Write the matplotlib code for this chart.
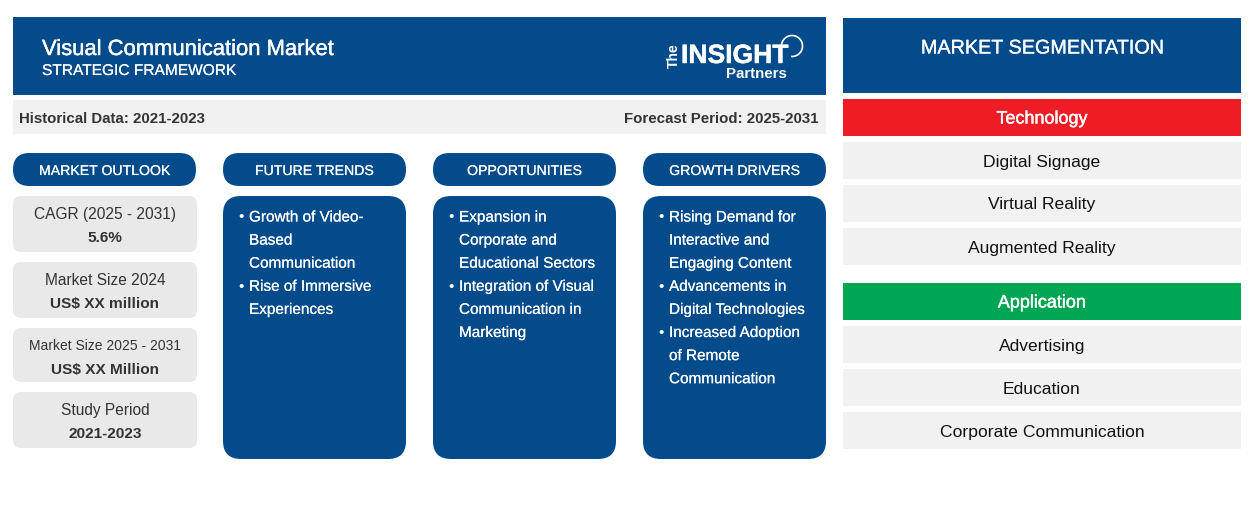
#!/usr/bin/env python3
"""Visual communication market infographic, laid out in pixel coordinates."""

import matplotlib
matplotlib.use("Agg")
import matplotlib.pyplot as plt
import matplotlib.patheffects as pe
from matplotlib.patches import Arc, FancyBboxPatch, Rectangle

plt.rcParams["font.family"] = ["Liberation Sans", "DejaVu Sans"]

BLUE = "#034b8a"
GREY = "#e9e9e9"
LIGHT = "#f1f1f1"
RED = "#ee1c25"
GREEN = "#00a651"
TEXT = "#333333"
PX = 0.72  # px to pt at dpi 100

title = "Visual Communication Market"
subtitle = "STRATEGIC FRAMEWORK"
historical = "Historical Data: 2021-2023"
forecast = "Forecast Period: 2025-2031"

outlook_labels = ["CAGR (2025 - 2031)", "Market Size 2024", "Market Size 2025 - 2031", "Study Period"]
outlook_values = ["5.6%", "US$ XX million", "US$ XX Million", "2021-2023"]

column_titles = ["MARKET OUTLOOK", "FUTURE TRENDS", "OPPORTUNITIES", "GROWTH DRIVERS"]
future_trends = [["Growth of Video-", "Based", "Communication"], ["Rise of Immersive", "Experiences"]]
opportunities = [["Expansion in", "Corporate and", "Educational Sectors"],
                 ["Integration of Visual", "Communication in", "Marketing"]]
growth_drivers = [["Rising Demand for", "Interactive and", "Engaging Content"],
                  ["Advancements in", "Digital Technologies"],
                  ["Increased Adoption", "of Remote", "Communication"]]

segment_title = "MARKET SEGMENTATION"
technology = ["Digital Signage", "Virtual Reality", "Augmented Reality"]
application = ["Advertising", "Education", "Corporate Communication"]


def rect(ax, x0, y0, x1, y1, color):
    ax.add_patch(Rectangle((x0, y0), x1 - x0, y1 - y0, fc=color, ec="none"))


def rounded(ax, x0, y0, x1, y1, r, color):
    ax.add_patch(FancyBboxPatch((x0 + r, y0 + r), x1 - x0 - 2 * r, y1 - y0 - 2 * r,
                                boxstyle=f"round,pad={r},rounding_size={r}", fc=color, ec="none"))


def label(ax, x, y, s, size, color="white", ha="center", weight="normal", heavy=0):
    t = ax.text(x, y + 1, s, fontsize=size * PX, color=color, ha=ha, va="center", fontweight=weight)
    if heavy:
        t.set_path_effects([pe.withStroke(linewidth=heavy, foreground=color)])
    return t


def bullets(ax, x0, items):
    y = 216.5
    for item in items:
        label(ax, x0 + 18.5, y, "•", 15)
        for line in item:
            label(ax, x0 + 26, y, line, 15.3, ha="left", heavy=0.1)
            y += 23.1


fig = plt.figure(figsize=(12.54, 5.30), dpi=100)
ax = fig.add_axes([0, 0, 1, 1])
ax.set_xlim(0, 1254)
ax.set_ylim(530, 0)
ax.axis("off")

# header
rect(ax, 13, 17, 826, 95, BLUE)
label(ax, 42, 48.5, title, 22, ha="left", heavy=0.3)
label(ax, 42, 69.5, subtitle, 15.5, ha="left", heavy=0.1)

# logo
ax.text(674, 56, "The", fontsize=14 * PX, color="white", rotation=90, ha="center", va="center", fontweight="bold")
label(ax, 681, 55, "INSIGHT", 26.5, ha="left", weight="bold", heavy=0.3)
label(ax, 756, 73, "Partners", 15, weight="bold")
ax.add_patch(Arc((792, 46), 21, 21, theta1=175, theta2=455, ec="white", lw=1.2))

# period band
rect(ax, 13, 100, 826, 134, LIGHT)
label(ax, 19, 118, historical, 15, color=TEXT, ha="left", weight="bold")
label(ax, 819, 118, forecast, 15, color=TEXT, ha="right", weight="bold")

# column pills
col_x = [13, 223, 433, 643]
for x0, name in zip(col_x, column_titles):
    rounded(ax, x0, 153, x0 + 183, 186, 16.5, BLUE)
    label(ax, x0 + 91.5, 170, name, 14.1, heavy=0.1)

# outlook cards
card_y = [(196, 252), (262, 318), (328, 382), (392, 448)]
label_size = [15.5, 15.5, 13.95, 15.5]
for (y0, y1), name, value, size in zip(card_y, outlook_labels, outlook_values, label_size):
    rounded(ax, 13, y0, 197, y1, 8, GREY)
    label(ax, 105, y0 + 17.5, name, size, color=TEXT)
    label(ax, 105, y0 + 41, value, 15.4, color=TEXT, weight="bold")

# bullet panels
for x0, items in zip(col_x[1:], [future_trends, opportunities, growth_drivers]):
    rounded(ax, x0, 196, x0 + 183, 459, 18, BLUE)
    bullets(ax, x0, items)

# segmentation
rect(ax, 843, 18, 1241, 93, BLUE)
label(ax, 1042, 47, segment_title, 19.8, heavy=0.2)
for name, color, top, rows in [("Technology", RED, 99, technology), ("Application", GREEN, 283, application)]:
    rect(ax, 843, top, 1241, top + 37, color)
    label(ax, 1042, top + 19, name, 18, heavy=0.3)
    for i, row in enumerate(rows):
        y0 = top + 43 + i * 43
        rect(ax, 843, y0, 1241, y0 + 37, LIGHT)
        label(ax, 1042, y0 + 19, row, 17.5, color="#111111")

fig.savefig("out.png", dpi=100)
